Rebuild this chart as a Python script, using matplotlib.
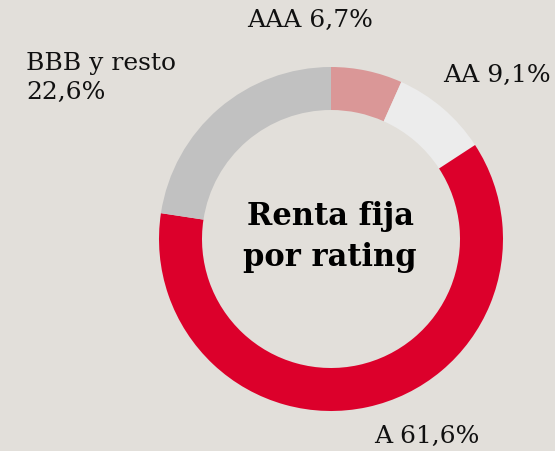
import matplotlib
matplotlib.use("Agg")
import matplotlib.pyplot as plt

# rating breakdown of the fixed-income portfolio (%)
ratings = ["AAA", "AA", "A", "BBB y resto"]
shares = [6.7, 9.1, 61.6, 22.6]
colors = ["#da9797", "#ececec", "#dc002b", "#c1c1c1"]

bg = "#e2dfda"
fig = plt.figure(figsize=(5.55, 4.52), dpi=100)
fig.patch.set_facecolor(bg)
ax = fig.add_axes([0, 0, 1, 1])
ax.set_facecolor(bg)

cx, cy, r = 331, 212, 172
ax.pie(shares, colors=colors, startangle=90, counterclock=False,
       center=(cx, cy), radius=r, frame=True,
       wedgeprops=dict(width=43, linewidth=0))
ax.set_xlim(0, 555)
ax.set_ylim(0, 452)
ax.set_aspect("equal")
ax.axis("off")

lab = dict(family="DejaVu Serif", fontsize=18, color="#111111")
def fmt(v):
    return f"{v:.1f}".replace(".", ",") + "%"

ax.text(310, 432, f"{ratings[0]} {fmt(shares[0])}", ha="center", va="center", **lab)
ax.text(497, 377, f"{ratings[1]} {fmt(shares[1])}", ha="center", va="center", **lab)
ax.text(427, 16, f"{ratings[2]} {fmt(shares[2])}", ha="center", va="center", **lab)
ax.text(26, 374, f"{ratings[3]}\n{fmt(shares[3])}", ha="left", va="center",
        linespacing=1.35, **lab)

ax.text(330, 215, "Renta fija\npor rating", ha="center", va="center",
        family="DejaVu Serif", fontsize=22, fontweight="bold",
        linespacing=1.4, color="#000000")

fig.savefig("out.png", dpi=100, facecolor=bg)
